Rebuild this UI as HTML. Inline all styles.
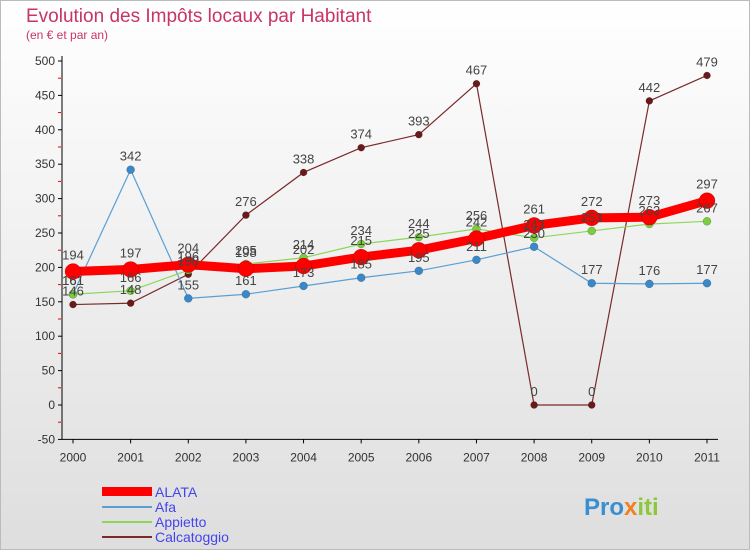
<!DOCTYPE html>
<html><head><meta charset="utf-8"><style>
body{margin:0;width:750px;height:550px;overflow:hidden;font-family:"Liberation Sans",sans-serif;}
</style></head><body>
<svg width="750" height="550" xmlns="http://www.w3.org/2000/svg">
<defs><linearGradient id="bg" x1="0" y1="0" x2="0" y2="1"><stop offset="0" stop-color="#ffffff"/><stop offset="1" stop-color="#dedede"/></linearGradient></defs>
<rect x="0.5" y="0.5" width="749" height="549" fill="url(#bg)" stroke="#bbb"/>
<text x="26" y="22" font-size="19" fill="#c8336a">Evolution des Impôts locaux par Habitant</text>
<text x="26" y="39" font-size="12" fill="#c8336a">(en € et par an)</text>
<g id="axes"></g><g id="series"></g><g id="labels"></g>
<g font-size="14" fill="#4444ee">
<rect x="102" y="487" width="50" height="9" fill="#f00"/>
<text x="155" y="497">ALATA</text>
<line x1="102" y1="507" x2="152" y2="507" stroke="#5a9fd4" stroke-width="2"/>
<text x="155" y="512">Afa</text>
<line x1="102" y1="522" x2="152" y2="522" stroke="#8ed65a" stroke-width="2"/>
<text x="155" y="527">Appietto</text>
<line x1="102" y1="537" x2="152" y2="537" stroke="#7a2a2a" stroke-width="2"/>
<text x="155" y="542">Calcatoggio</text>
</g>
<text x="584" y="515" font-size="24" font-weight="bold" fill="#3a8fd0">Pro<tspan fill="#f08020">x</tspan><tspan fill="#8cc83c">iti</tspan></text>
</svg>
<script>
const years=["2000","2001","2002","2003","2004","2005","2006","2007","2008","2009","2010","2011"];
const yTicks=[-50,0,50,100,150,200,250,300,350,400,450,500];
const alata=[194,197,204,198,202,215,225,242,261,272,273,297];
const afa=[161,342,155,161,173,185,195,211,230,177,176,177];
const appietto=[161,166,196,205,214,234,244,256,243,253,263,267];
const calcatoggio=[146,148,190,276,338,374,393,467,0,0,442,479];
const NS="http://www.w3.org/2000/svg";
const X=i=>73+i*(707-73)/11, Y=v=>405-v*0.688;
function mk(t,a,p){const e=document.createElementNS(NS,t);for(const k in a)e.setAttribute(k,a[k]);p.appendChild(e);return e;}
const ax=document.getElementById('axes'),sg=document.getElementById('series'),lg=document.getElementById('labels');
const yl=mk('line',{x1:62,y1:Y(500)-5,x2:62,y2:Y(-50),stroke:'#000'},ax);

const xl=mk('line',{x1:62,y1:Y(-50),x2:718,y2:Y(-50),stroke:'#000'},ax);

yTicks.forEach(v=>{
 mk('line',{x1:58,y1:Y(v),x2:62,y2:Y(v),stroke:'#000'},ax);
 if(v<500) mk('line',{x1:58,y1:Y(v+25),x2:61,y2:Y(v+25),stroke:'#e00'},ax);
 const t=mk('text',{x:55,y:Y(v)+4,'text-anchor':'end','font-size':12,fill:'#333'},ax);t.textContent=v;
 
});
years.forEach((y,i)=>{
 mk('line',{x1:X(i),y1:Y(-50),x2:X(i),y2:Y(-50)+4,stroke:'#000'},ax);
 const t=mk('text',{x:X(i),y:Y(-50)+22,'text-anchor':'middle','font-size':12,fill:'#333'},ax);t.textContent=y;
 
});
function series(d,name,col,w,r,dotc){
 const l=mk('polyline',{points:d.map((v,i)=>X(i)+','+Y(v)).join(' '),fill:'none',stroke:col,'stroke-width':w},sg);
 
 d.forEach((v,i)=>{
  const c=mk('circle',{cx:X(i),cy:Y(v),r:r,fill:dotc,stroke:'rgba(0,0,0,0.3)','stroke-width':0.5},sg);
  
  const t=mk('text',{x:X(i),y:Y(v)-9-(r>5?3:0),'text-anchor':'middle','font-size':13,fill:'#444'},lg);t.textContent=v;
  
 });
}
series(calcatoggio,'calcatoggio','#7a2a2a',1.2,3.5,'#6a1a1a');
series(afa,'afa','#5a9fd4',1.2,4,'#3a88c8');
series(appietto,'appietto','#8ed65a',1.2,4,'#7acc40');
series(alata,'alata','#f00',9,8,'#f00');
</script>
</body></html>
